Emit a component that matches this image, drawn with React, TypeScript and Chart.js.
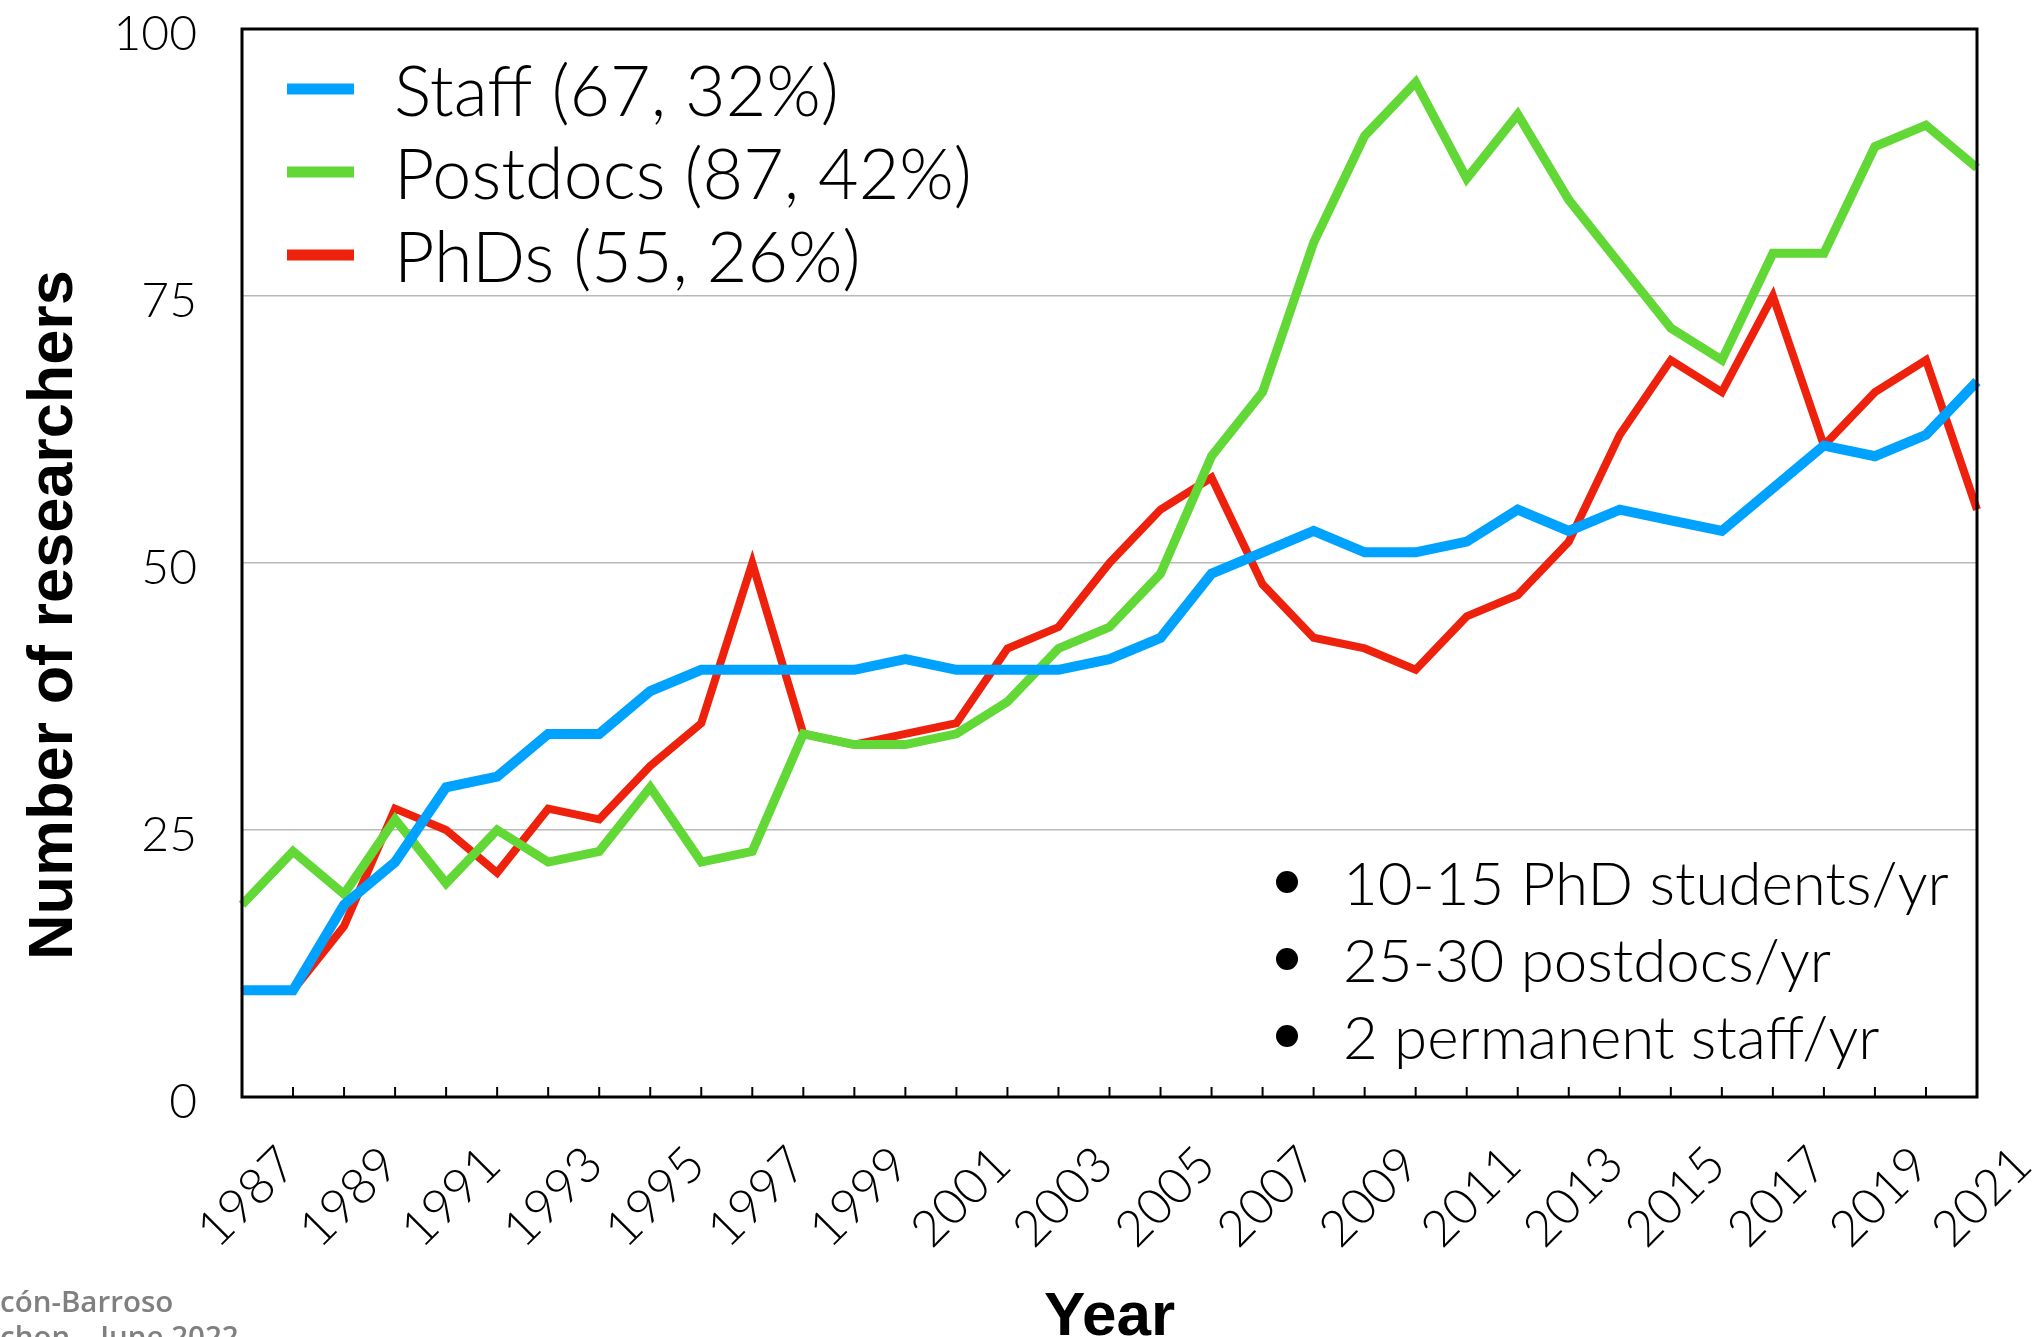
import React, { useEffect, useRef } from "react";
import { Chart, registerables } from "chart.js";

Chart.register(...registerables);

const years = [
  "1987", "1988", "1989", "1990", "1991", "1992", "1993", "1994", "1995", "1996",
  "1997", "1998", "1999", "2000", "2001", "2002", "2003", "2004", "2005", "2006",
  "2007", "2008", "2009", "2010", "2011", "2012", "2013", "2014", "2015", "2016",
  "2017", "2018", "2019", "2020", "2021",
];

const staff = [
  10, 10, 18, 22, 29, 30, 34, 34, 38, 40,
  40, 40, 40, 41, 40, 40, 40, 41, 43, 49,
  51, 53, 51, 51, 52, 55, 53, 55, 54, 53,
  57, 61, 60, 62, 67,
];

const postdocs = [
  18, 23, 19, 26, 20, 25, 22, 23, 29, 22,
  23, 34, 33, 33, 34, 37, 42, 44, 49, 60,
  66, 80, 90, 95, 86, 92, 84, 78, 72, 69,
  79, 79, 89, 91, 87,
];

const phds = [
  10, 10, 16, 27, 25, 21, 27, 26, 31, 35,
  50, 34, 33, 34, 35, 42, 44, 50, 55, 58,
  48, 43, 42, 40, 45, 47, 52, 62, 69, 66,
  75, 61, 66, 69, 55,
];

const seriesLabels = ["Staff (67, 32%)", "Postdocs (87, 42%)", "PhDs (55, 26%)"];
const seriesColors = ["#00a2ff", "#61d836", "#ee220c"];
const seriesWidths = [10, 9, 8];

const notes = ["10-15 PhD students/yr", "25-30 postdocs/yr", "2 permanent staff/yr"];
const yTitle = "Number of researchers";
const xTitle = "Year";
const footer = ["cón-Barroso", "chon – June 2022"];

const LIGHT = "Lato, Roboto, 'Helvetica Neue', Helvetica, Arial, sans-serif";
const BOLD = "'Liberation Sans', Helvetica, Arial, sans-serif";

const overlay = {
  id: "overlay",
  afterDraw(chart: any) {
    const { ctx, chartArea: a, scales } = chart;
    const xs = scales.x;
    ctx.save();

    // inward tick marks on the bottom axis
    ctx.strokeStyle = "#000";
    ctx.lineWidth = 2;
    for (let i = 1; i < years.length - 1; i++) {
      const px = xs.getPixelForValue(i);
      ctx.beginPath();
      ctx.moveTo(px, a.bottom);
      ctx.lineTo(px, a.bottom - 10);
      ctx.stroke();
    }

    // frame
    ctx.lineWidth = 3;
    ctx.strokeRect(a.left, a.top, a.right - a.left, a.bottom - a.top);

    // legend inside chart area
    ctx.textAlign = "left";
    ctx.textBaseline = "alphabetic";
    ctx.font = `300 70px ${LIGHT}`;
    chart.data.datasets.forEach((ds: any, i: number) => {
      const base = a.top + 87 + i * 83;
      ctx.fillStyle = ds.borderColor;
      ctx.fillRect(a.left + 45, base - 27 - 5.5, 67, 11);
      ctx.fillStyle = "#000";
      ctx.fillText(ds.label, a.left + 152, base);
    });

    // bullet notes
    ctx.font = `300 60px ${LIGHT}`;
    notes.forEach((t, i) => {
      const base = 905 + i * 77;
      ctx.fillStyle = "#000";
      ctx.beginPath();
      ctx.arc(1287, base - 23, 11, 0, Math.PI * 2);
      ctx.fill();
      ctx.fillText(t, 1343, base);
    });

    // axis titles
    ctx.fillStyle = "#000";
    ctx.font = `bold 62px ${BOLD}`;
    ctx.textAlign = "center";
    ctx.fillText(xTitle, (a.left + a.right) / 2, 1335);

    ctx.save();
    ctx.translate(72, 615);
    ctx.rotate(-Math.PI / 2);
    ctx.font = `bold 63px ${BOLD}`;
    ctx.fillText(yTitle, 0, 0);
    ctx.restore();

    // footer
    ctx.textAlign = "left";
    ctx.fillStyle = "#808080";
    ctx.font = `600 29.5px 'Open Sans', sans-serif`;
    ctx.fillText(footer[0], 0, 1312);
    ctx.fillText(footer[1], 0, 1347);

    ctx.restore();
  },
};

export default function App() {
  const ref = useRef<HTMLCanvasElement>(null);

  useEffect(() => {
    const series = [staff, postdocs, phds];
    const chart = new Chart(ref.current as HTMLCanvasElement, {
      type: "line",
      data: {
        labels: years,
        datasets: series.map((d, i) => ({
          label: seriesLabels[i],
          data: d,
          borderColor: seriesColors[i],
          backgroundColor: seriesColors[i],
          borderWidth: seriesWidths[i],
          pointRadius: 0,
          pointHoverRadius: 0,
          tension: 0,
          fill: false,
          borderJoinStyle: "miter" as const,
          borderCapStyle: "butt" as const,
        })),
      },
      options: {
        responsive: false,
        animation: false,
        layout: { padding: { left: 0, top: 29, right: 64, bottom: 0 } },
        plugins: {
          legend: { display: false },
          tooltip: { enabled: false },
          title: { display: false },
        },
        scales: {
          x: {
            grid: { display: false, drawTicks: false },
            border: { display: false },
            ticks: {
              autoSkip: false,
              maxRotation: 45,
              minRotation: 45,
              padding: 38,
              labelOffset: 46,
              color: "#000",
              font: { family: LIGHT, size: 50, weight: "300" as any },
              callback: (_v: any, i: number) => (i % 2 === 0 ? years[i] : ""),
            },
            afterFit: (s: any) => {
              s.height = 240;
              s.paddingLeft = 0;
              s.paddingRight = 0;
            },
          },
          y: {
            min: 0,
            max: 100,
            grid: { color: "#b9b9b9", lineWidth: 1.5, drawTicks: false },
            border: { display: false },
            ticks: {
              stepSize: 25,
              padding: 45,
              labelOffset: 6,
              color: "#000",
              font: { family: LIGHT, size: 48, weight: "300" as any },
            },
            afterFit: (s: any) => {
              s.width = 242;
              s.paddingTop = 0;
              s.paddingBottom = 0;
            },
          },
        },
      },
      plugins: [overlay],
    });
    return () => chart.destroy();
  }, []);

  return (
    <div
      style={{
        position: "absolute",
        left: 0,
        top: 0,
        width: 2041,
        height: 1337,
        background: "#fff",
        overflow: "hidden",
      }}
    >
      <canvas ref={ref} width={2041} height={1337} style={{ display: "block" }} />
    </div>
  );
}
